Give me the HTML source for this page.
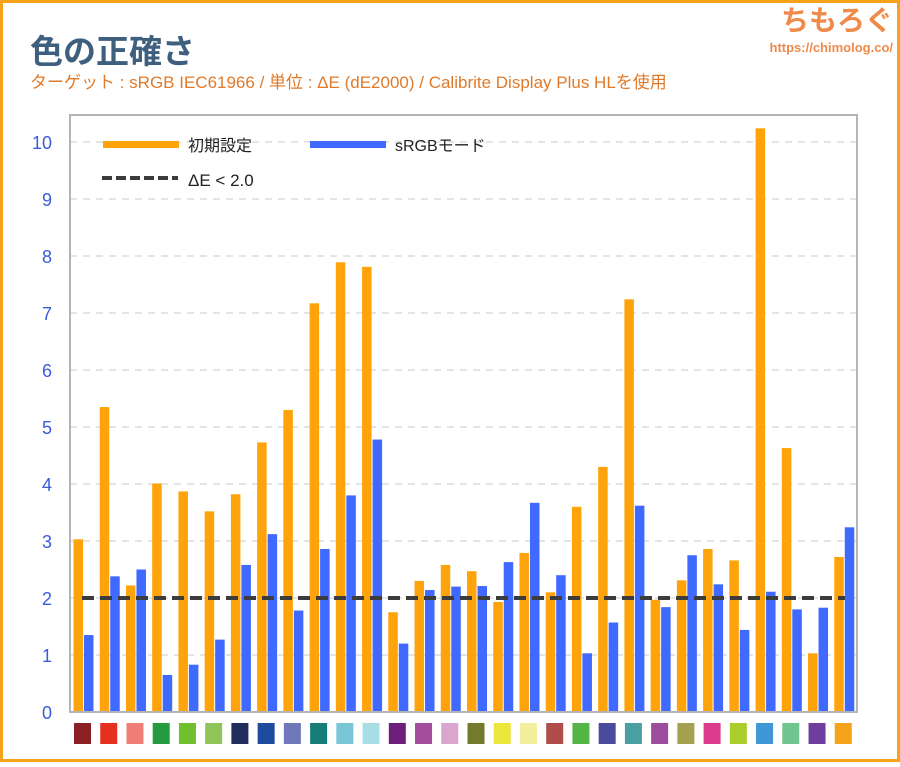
<!DOCTYPE html>
<html><head><meta charset="utf-8"><style>
html,body{margin:0;padding:0;background:#fff}
body{width:900px;height:762px;overflow:hidden}
</style></head><body>
<svg width="900" height="762" xmlns="http://www.w3.org/2000/svg" font-family="'Liberation Sans','Noto Sans CJK JP',sans-serif">
<rect x="1.5" y="1.5" width="897" height="759" fill="#fff" stroke="#f7a21b" stroke-width="3"/>
<text x="30" y="63" font-size="33" font-weight="bold" fill="#3f5f7f">色の正確さ</text>
<text x="30" y="88" font-size="17" fill="#e07a2a">ターゲット : sRGB IEC61966 / 単位 : ΔE (dE2000) / Calibrite Display Plus HLを使用</text>
<text x="893" y="30" font-size="28" font-weight="bold" fill="#f08a4b" text-anchor="end">ちもろぐ</text>
<text x="893" y="52" font-size="13" font-weight="bold" fill="#f08a4b" text-anchor="end">https://chimolog.co/</text>
<g id="plot"></g>
</svg>
<script>
const ns="http://www.w3.org/2000/svg",g=document.getElementById('plot');
function el(t,a,txt){const e=document.createElementNS(ns,t);for(const k in a)e.setAttribute(k,a[k]);if(txt!=null)e.textContent=txt;g.appendChild(e);return e;}
const y0=712,u=57.0,L=70,R=857,T=115;
for(let i=1;i<=10;i++){el('line',{x1:L,x2:R,y1:y0-i*u,y2:y0-i*u,stroke:'#d4d4d4','stroke-dasharray':'7,6','stroke-width':1.2});}
for(let i=0;i<=10;i++){el('text',{x:52,y:y0-i*u+7,'font-size':18,fill:'#3b5bd9','text-anchor':'end'},String(i));}
const o=[3.03,5.35,2.22,4.01,3.87,3.52,3.82,4.73,5.30,7.17,7.89,7.81,1.75,2.30,2.58,2.47,1.93,2.79,2.10,3.60,4.30,7.24,1.97,2.31,2.86,2.66,10.24,4.63,1.03,2.72];
const b=[1.35,2.38,2.50,0.65,0.83,1.27,2.58,3.12,1.78,2.86,3.80,4.78,1.20,2.14,2.20,2.21,2.63,3.67,2.40,1.03,1.57,3.62,1.84,2.75,2.24,1.44,2.11,1.80,1.83,3.24];
const cols=['#8a1f24','#e5301f','#ef7d78','#239b3e','#6fbf2f','#8fc45a','#1f2c5c','#1f4b9e','#6f78b9','#177d78','#77c6d6','#a9dde6','#6d1f7b','#a14d9b','#dba6cd','#737a2b','#ece53a','#f3ef9f','#b04d4a','#53b545','#4b4b9d','#4aa0a0','#9d4d9d','#a1a14f','#dc3a8d','#abcd2b','#3f97d6','#70c48d','#6f3d9d','#f4a31a'];
const gw=(R-L)/30;
for(let i=0;i<30;i++){const x=L+i*gw;
el('rect',{x:x+3.5,y:y0-o[i]*u,width:9.5,height:o[i]*u,fill:'#ffa30a'});
el('rect',{x:x+14,y:y0-b[i]*u,width:9.5,height:b[i]*u,fill:'#3f69ff'});
el('rect',{x:x+4,y:723,width:17,height:21,fill:cols[i]});}
el('line',{x1:82,x2:845,y1:y0-2*u,y2:y0-2*u,stroke:'#3c3c3c','stroke-width':4,'stroke-dasharray':'12,6'});
el('rect',{x:L,y:T,width:R-L,height:y0-T,fill:'none',stroke:'#b4b4b4','stroke-width':2});
el('rect',{x:103,y:141,width:76,height:7,fill:'#ffa30a'});
el('text',{x:188,y:151,'font-size':16,fill:'#222'},'初期設定');
el('rect',{x:310,y:141,width:76,height:7,fill:'#3f69ff'});
el('text',{x:395,y:151,'font-size':16,fill:'#222'},'sRGBモード');
el('line',{x1:102,x2:178,y1:178,y2:178,stroke:'#3c3c3c','stroke-width':4,'stroke-dasharray':'10,4'});
el('text',{x:188,y:186,'font-size':17,fill:'#222'},'ΔE < 2.0');
</script>
</body></html>
